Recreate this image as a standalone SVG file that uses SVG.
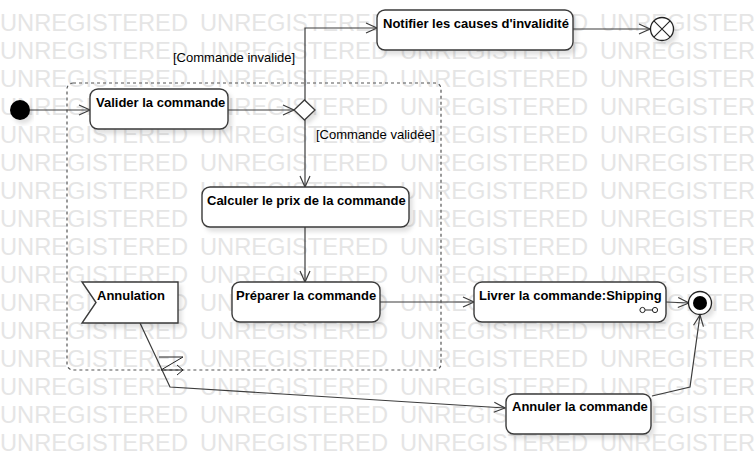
<svg xmlns="http://www.w3.org/2000/svg" xmlns:xlink="http://www.w3.org/1999/xlink" width="755" height="474" viewBox="0 0 755 474">
<style>
.wm{font-family:"Liberation Sans",Arial,sans-serif;font-size:23px;fill:#e5e5e5}
.box{fill:#fff;stroke:#3a3a3a;stroke-width:1.4}
.t{font-family:"Liberation Sans",Arial,sans-serif;font-size:13px;font-weight:bold;fill:#000}
.lbl{font-family:"Liberation Sans",Arial,sans-serif;font-size:13px;fill:#000}
.edge{fill:none;stroke:#3c3c3c;stroke-width:1.2}
.thin{fill:none;stroke:#222;stroke-width:1}
</style>
<defs>
<marker id="arr" markerUnits="userSpaceOnUse" markerWidth="14" markerHeight="12" refX="12" refY="6" orient="auto">
<path d="M1,1 L12,6 L1,11" fill="none" stroke="#3c3c3c" stroke-width="1.2"/>
</marker>
<filter id="sh" x="-10%" y="-10%" width="130%" height="140%">
<feDropShadow dx="3" dy="4" stdDeviation="2" flood-color="#000" flood-opacity="0.12"/>
</filter>
<g id="wmrow">
<text class="wm" x="0" textLength="188" lengthAdjust="spacingAndGlyphs">UNREGISTERED</text>
<text class="wm" x="200" textLength="188" lengthAdjust="spacingAndGlyphs">UNREGISTERED</text>
<text class="wm" x="400" textLength="188" lengthAdjust="spacingAndGlyphs">UNREGISTERED</text>
<text class="wm" x="600" textLength="188" lengthAdjust="spacingAndGlyphs">UNREGISTERED</text>
</g>
</defs>
<rect width="755" height="474" fill="#fff"/>
<g id="watermark">
<use xlink:href="#wmrow" y="31"/>
<use xlink:href="#wmrow" y="59"/>
<use xlink:href="#wmrow" y="87"/>
<use xlink:href="#wmrow" y="115"/>
<use xlink:href="#wmrow" y="143"/>
<use xlink:href="#wmrow" y="171"/>
<use xlink:href="#wmrow" y="199"/>
<use xlink:href="#wmrow" y="227"/>
<use xlink:href="#wmrow" y="255"/>
<use xlink:href="#wmrow" y="283"/>
<use xlink:href="#wmrow" y="311"/>
<use xlink:href="#wmrow" y="339"/>
<use xlink:href="#wmrow" y="367"/>
<use xlink:href="#wmrow" y="395"/>
<use xlink:href="#wmrow" y="423"/>
<use xlink:href="#wmrow" y="451"/>
</g>

<g id="region">
<rect x="67" y="83" width="374" height="287" rx="6" fill="none" stroke="#555" stroke-width="1.2" stroke-dasharray="3,3"/>
</g>

<g id="connectors">
<path class="edge" d="M30,110 L90,110" marker-end="url(#arr)"/>
<path class="edge" d="M228,110 L294,110" marker-end="url(#arr)"/>
<path class="edge" d="M305,100 L305,28 L377,28" marker-end="url(#arr)"/>
<path class="edge" d="M573,29 L650,29" marker-end="url(#arr)"/>
<path class="edge" d="M305,120 L305,187" marker-end="url(#arr)"/>
<path class="edge" d="M305,227 L305,282" marker-end="url(#arr)"/>
<path class="edge" d="M380,302 L474,302" marker-end="url(#arr)"/>
<path class="edge" d="M666,302 L689,303" marker-end="url(#arr)"/>
<path class="edge" d="M140,323 L170,387 L505,408" marker-end="url(#arr)"/>
<path class="thin" d="M159,357 L183,357 L161,370 L183,370"/>
<path class="thin" d="M177,365 L183,370 L177,375"/>
<path class="edge" d="M652,396 L690,387 L700,315" marker-end="url(#arr)"/>
<text class="lbl" x="173" y="62">[Commande invalide]</text>
<text class="lbl" x="316" y="139">[Commande validée]</text>
</g>

<g id="initial">
<circle cx="20" cy="110" r="10" fill="#000" filter="url(#sh)"/>
</g>

<g id="valider">
<rect class="box" x="90" y="89" width="138" height="40" rx="8" filter="url(#sh)"/>
<text class="t" x="96" y="107">Valider la commande</text>
</g>

<g id="decision">
<polygon points="294,110 304.5,100 315,110 304.5,120" fill="#fff" stroke="#3a3a3a" stroke-width="1.3" filter="url(#sh)"/>
</g>

<g id="notifier">
<rect class="box" x="377" y="10" width="196" height="40" rx="8" filter="url(#sh)"/>
<text class="t" x="383" y="27.5">Notifier les causes d'invalidité</text>
</g>

<g id="flowfinal">
<circle cx="662" cy="29" r="11.5" fill="#fff" stroke="#222" stroke-width="1.3" filter="url(#sh)"/>
<path d="M653.9,20.9 L670.1,37.1 M670.1,20.9 L653.9,37.1" stroke="#222" stroke-width="1.1"/>
</g>

<g id="calculer">
<rect class="box" x="202" y="187" width="207" height="40" rx="8" filter="url(#sh)"/>
<text class="t" x="207" y="204.5">Calculer le prix de la commande</text>
</g>

<g id="preparer">
<rect class="box" x="232" y="282" width="148" height="40" rx="8" filter="url(#sh)"/>
<text class="t" x="236" y="299.5">Préparer la commande</text>
</g>

<g id="livrer">
<rect class="box" x="474" y="282" width="192" height="40" rx="8" filter="url(#sh)"/>
<text class="t" x="479" y="299.5">Livrer la commande:Shipping</text>
<circle cx="642.5" cy="310" r="2.6" fill="#fff" stroke="#222" stroke-width="1"/>
<circle cx="655" cy="310" r="2.6" fill="#fff" stroke="#222" stroke-width="1"/>
<line x1="645.1" y1="310" x2="652.4" y2="310" stroke="#222" stroke-width="1"/>
</g>

<g id="final">
<circle cx="700" cy="303" r="11.5" fill="#fff" stroke="#222" stroke-width="1.3" filter="url(#sh)"/>
<circle cx="700" cy="303" r="7" fill="#000"/>
</g>

<g id="annulation">
<path d="M82,282 L178,282 L178,323 L82,323 L96,302.5 Z" fill="#fff" stroke="#3a3a3a" stroke-width="1.4" filter="url(#sh)"/>
<text class="t" x="97" y="299.5">Annulation</text>
</g>

<g id="annuler">
<rect class="box" x="506" y="394" width="145" height="40" rx="8" filter="url(#sh)"/>
<text class="t" x="512" y="411">Annuler la commande</text>
</g>
</svg>
